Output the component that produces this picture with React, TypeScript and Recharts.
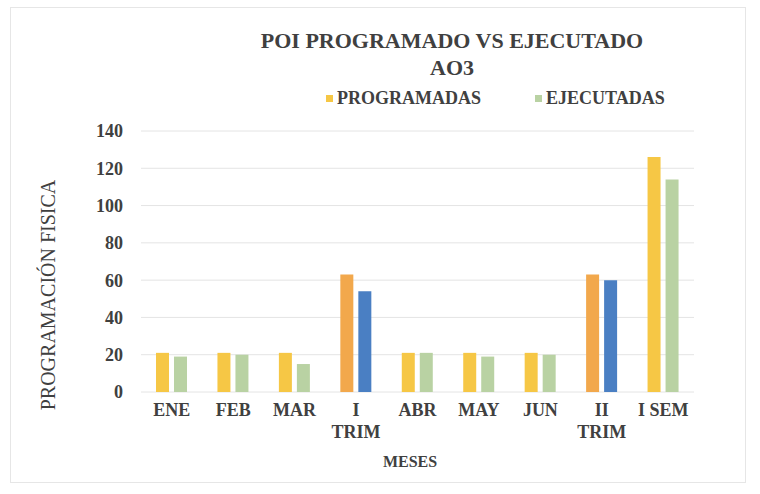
import React from 'react';
import { BarChart, Bar, XAxis, YAxis, CartesianGrid, Legend, Cell } from 'recharts';

const categories = ['ENE', 'FEB', 'MAR', 'I\nTRIM', 'ABR', 'MAY', 'JUN', 'II\nTRIM', 'I SEM'];
const programadas = [21, 21, 21, 63, 21, 21, 21, 63, 126];
const ejecutadas = [19, 20, 15, 54, 21, 19, 20, 60, 114];
const trimestres = [false, false, false, true, false, false, false, true, false];
const yTicks = [0, 20, 40, 60, 80, 100, 120, 140];
const seriesNames = ['PROGRAMADAS', 'EJECUTADAS'];

const COLORS = {
  prog: '#F6C745',
  ejec: '#B9D2A3',
  trimProg: '#F2A84C',
  trimEjec: '#4A7FC3',
  text: '#404040',
};

const FONT = '"Liberation Serif", "Times New Roman", serif';

const data = categories.map((c, i) => ({
  name: c,
  prog: programadas[i],
  ejec: ejecutadas[i],
}));

const XTick = (props: any) => {
  const { x, y, payload } = props;
  const lines = String(payload.value).split('\n');
  return (
    <text x={x} y={y} textAnchor="middle" fill={COLORS.text} fontFamily={FONT} fontWeight="bold" fontSize={18}>
      {lines.map((l, i) => (
        <tspan key={i} x={x} y={y + 24 + i * 22}>
          {l}
        </tspan>
      ))}
    </text>
  );
};

const LegendContent = () => (
  <div style={{ position: 'relative', width: 760, height: 24, fontFamily: FONT, fontWeight: 'bold', fontSize: 18, color: COLORS.text }}>
    <div style={{ position: 'absolute', left: 326, top: 8, width: 7, height: 7, background: COLORS.prog }} />
    <div style={{ position: 'absolute', left: 337, top: 0, lineHeight: '22px', whiteSpace: 'nowrap' }}>{seriesNames[0]}</div>
    <div style={{ position: 'absolute', left: 535, top: 8, width: 7, height: 7, background: COLORS.ejec }} />
    <div style={{ position: 'absolute', left: 546, top: 0, lineHeight: '22px', whiteSpace: 'nowrap' }}>{seriesNames[1]}</div>
  </div>
);

export default function App() {
  return (
    <div style={{ position: 'absolute', left: 0, top: 0, width: 760, height: 494, background: '#fff', fontFamily: FONT }}>
      <div style={{ position: 'absolute', left: 10, top: 7, width: 736, height: 476, border: '1px solid #e6e6e6', boxSizing: 'border-box' }} />
      <div style={{ position: 'absolute', left: 252, top: 27, width: 400, textAlign: 'center', fontSize: 22, lineHeight: '27px', fontWeight: 'bold', color: COLORS.text }}>
        POI PROGRAMADO VS EJECUTADO
        <br />
        AO3
      </div>
      <div
        style={{
          position: 'absolute',
          left: 48,
          top: 295,
          transform: 'translate(-50%, -50%) rotate(-90deg)',
          whiteSpace: 'nowrap',
          fontSize: 20,
          color: COLORS.text,
        }}
      >
        PROGRAMACIÓN FISICA
      </div>
      <div style={{ position: 'absolute', left: 410, top: 462, transform: 'translate(-50%, -50%)', whiteSpace: 'nowrap', fontSize: 16, fontWeight: 'bold', color: COLORS.text }}>
        MESES
      </div>
      <BarChart
        width={760}
        height={494}
        data={data}
        margin={{ top: 131, right: 66, bottom: 62, left: 81 }}
        barSize={13}
        barGap={5}
        style={{ position: 'absolute', left: 0, top: 0 }}
      >
        <CartesianGrid vertical={false} stroke="#e4e4e4" />
        <XAxis dataKey="name" axisLine={false} tickLine={false} tickSize={0} tickMargin={0} height={40} interval={0} tick={<XTick />} />
        <YAxis
          domain={[0, 140]}
          ticks={yTicks}
          axisLine={false}
          tickLine={false}
          tickSize={0}
          tickMargin={18}
          width={60}
          tick={{ fill: COLORS.text, fontFamily: FONT, fontWeight: 'bold', fontSize: 18 }}
        />
        <Legend layout="vertical" verticalAlign="middle" align="center" wrapperStyle={{ top: 87, left: 0, width: 760 }} content={<LegendContent />} />
        <Bar dataKey="prog" name={seriesNames[0]} fill={COLORS.prog} isAnimationActive={false}>
          {data.map((d, i) => (
            <Cell key={i} fill={trimestres[i] ? COLORS.trimProg : COLORS.prog} />
          ))}
        </Bar>
        <Bar dataKey="ejec" name={seriesNames[1]} fill={COLORS.ejec} isAnimationActive={false}>
          {data.map((d, i) => (
            <Cell key={i} fill={trimestres[i] ? COLORS.trimEjec : COLORS.ejec} />
          ))}
        </Bar>
      </BarChart>
    </div>
  );
}
